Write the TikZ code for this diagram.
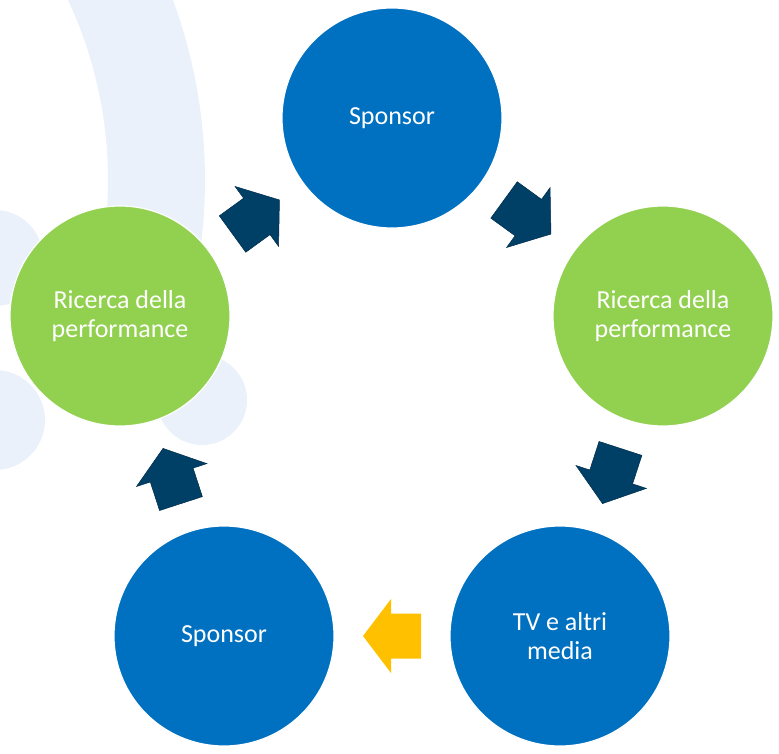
\documentclass[tikz,border=0pt]{standalone}
\usepackage{fontspec}
\setmainfont{Carlito}
\usetikzlibrary{calc}

\definecolor{cycleblue}{RGB}{0,112,192}
\definecolor{cyclegreen}{RGB}{146,208,80}
\definecolor{navyarrow}{RGB}{0,63,102}
\definecolor{navyedge}{RGB}{0,45,75}
\definecolor{goldarrow}{RGB}{255,192,0}
\definecolor{paleblue}{RGB}{234,241,251}

\tikzset{
  stage/.style={circle, minimum size=220pt, inner sep=0pt, draw=white,
    line width=1.2pt, text=white, align=center,
    font=\fontsize{26}{29}\selectfont},
  bluestage/.style={stage, fill=cycleblue},
  greenstage/.style={stage, fill=cyclegreen},
  navyblock/.style={fill=navyarrow, draw=navyedge, line width=0.5pt},
  goldblock/.style={fill=goldarrow},
  backdrop/.style={paleblue}
}

% block arrow centred between two stages, pointing along the given angle
\newcommand\cyclearrow[4]{%
  \begin{scope}[shift={($(#1)!0.5!(#2)$)}, rotate=#3]
    \path[#4] (-29,-22.5) -- (1,-22.5) -- (1,-37) -- (29,0) -- (1,37)
      -- (1,22.5) -- (-29,22.5) -- cycle;
  \end{scope}}

\begin{document}
\begin{tikzpicture}[x=1pt, y=-1pt]
  \useasboundingbox (0,0) rectangle (779,754);

  % soft background ring and discs
  \draw[backdrop, line width=97pt] (-317,180) ++(-40:473.5)
    arc[start angle=-40, end angle=18, radius=473.5];
  \fill[backdrop] (-5,258) circle[radius=48];
  \fill[backdrop] (-5,420) circle[radius=50];
  \fill[backdrop] (202,400) circle[radius=45];

  % the five stages of the cycle
  \node[bluestage]  (top) at (392,118) {Sponsor};
  \node[greenstage] (rg)  at (663,316) {Ricerca della\\performance};
  \node[bluestage]  (tv)  at (560,636) {TV e altri\\media};
  \node[bluestage]  (sp)  at (224,636) {Sponsor};
  \node[greenstage] (lg)  at (120,316) {Ricerca della\\performance};

  % arrows between consecutive stages
  \cyclearrow{lg}{top}{36}{navyblock}
  \cyclearrow{top}{rg}{-36}{navyblock}
  \cyclearrow{rg}{tv}{-108}{navyblock}
  \cyclearrow{tv}{sp}{180}{goldblock}
  \cyclearrow{sp}{lg}{108}{navyblock}
\end{tikzpicture}
\end{document}
